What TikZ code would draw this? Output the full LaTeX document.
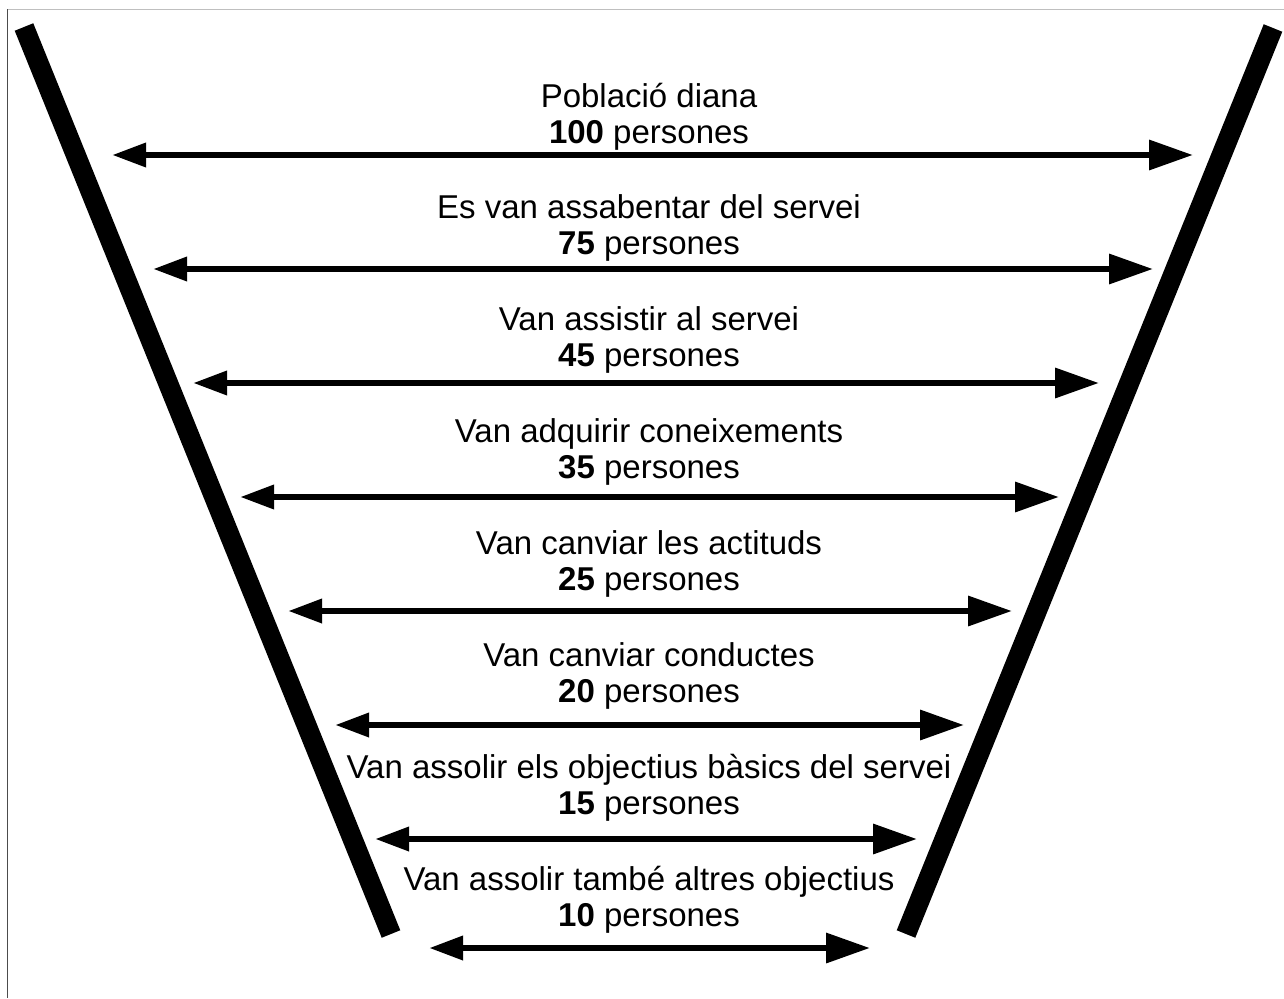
\documentclass[tikz,border=0pt]{standalone}
\usepackage{fontspec}
\setmainfont{Liberation Sans}
\usetikzlibrary{arrows.meta}
\begin{document}
\begin{tikzpicture}[x=1pt,y=-1pt,
  lbl/.style={anchor=base, inner sep=0pt, font=\fontsize{33}{37}\selectfont},
  dbl/.style={line width=6.5pt, {Triangle[length=34pt,width=23pt]}-{Triangle[length=44pt,width=29pt]}},
  funnelbar/.style={line width=20pt},
  framel/.style={line width=1.2pt}]
\useasboundingbox (0,0) rectangle (1284,998);
% frame
\coordinate (f0) at (7.3,9.3);
\coordinate (f1) at (1284,9.3);
\coordinate (f2) at (7.3,998);
\draw[framel, black!25] (f0) -- (f1);
\draw[framel, black!70] (f0) -- (f2);
% funnel sides
\coordinate (lt) at (24,27);
\coordinate (lb) at (391,934);
\coordinate (rt) at (1273,28);
\coordinate (rb) at (906,934);
\draw[funnelbar] (lt) -- (lb);
\draw[funnelbar] (rt) -- (rb);
% rows
\foreach \i/\txt/\num/\ay/\xl/\xr in {
  1/Població diana/100/155/112/1193,
  2/Es van assabentar del servei/75/269/153/1153,
  3/Van assistir al servei/45/383/193/1099,
  4/Van adquirir coneixements/35/497/240/1059,
  5/Van canviar les actituds/25/611/288/1012,
  6/Van canviar conductes/20/725/335/964,
  7/Van assolir els objectius bàsics del servei/15/839/375/917,
  8/Van assolir també altres objectius/10/948/429/870}{
  \pgfmathsetmacro{\ba}{107+111.9*(\i-1)}
  \pgfmathsetmacro{\bb}{\ba+36}
  \node[lbl] (t\i a) at (649,\ba) {\txt};
  \node[lbl] (t\i b) at (649,\bb) {\textbf{\num} persones};
  \coordinate (l\i) at (\xl,\ay);
  \coordinate (r\i) at (\xr,\ay);
  \draw[dbl] (l\i) -- (r\i);
}
\end{tikzpicture}
\end{document}
